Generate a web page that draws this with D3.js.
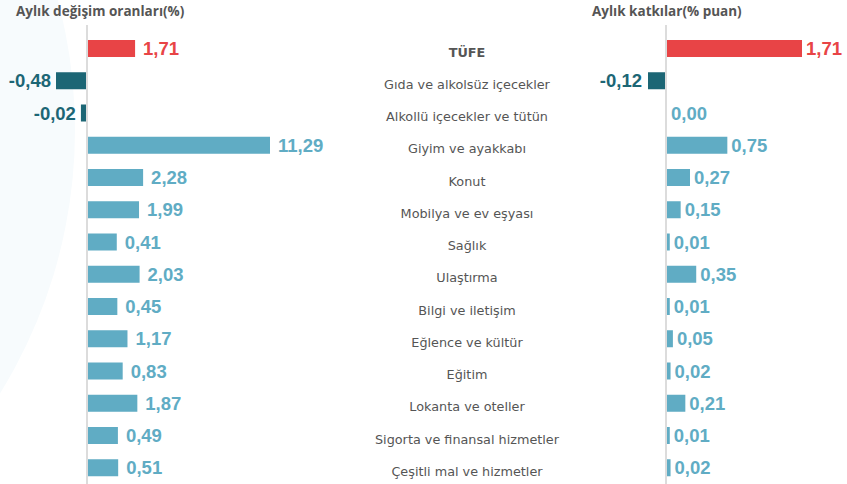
<!DOCTYPE html>
<html><head><meta charset="utf-8">
<script src="https://cdn.jsdelivr.net/npm/d3@7"></script>
<style>html,body{margin:0;padding:0;background:#fff;}svg{display:block;}</style>
</head><body>
<svg id="chart" width="847" height="484"></svg>
<script>
const categories = ["TÜFE","Gıda ve alkolsüz içecekler","Alkollü içecekler ve tütün","Giyim ve ayakkabı","Konut","Mobilya ve ev eşyası","Sağlık","Ulaştırma","Bilgi ve iletişim","Eğlence ve kültür","Eğitim","Lokanta ve oteller","Sigorta ve finansal hizmetler","Çeşitli mal ve hizmetler"];
const changes = [1.71,-0.48,-0.02,11.29,2.28,1.99,0.41,2.03,0.45,1.17,0.83,1.87,0.49,0.51];
const contributions = [1.71,-0.12,0.00,0.75,0.27,0.15,0.01,0.35,0.01,0.05,0.02,0.21,0.01,0.02];
const titles = ["Aylık değişim oranları(%)","Aylık katkılar(% puan)"];

const RED="#e84446", DARK="#1c6675", LIGHT="#60acc4";
const svg = d3.select("#chart");

// faint background decoration
svg.append("ellipse").attr("cx",-425).attr("cy",130).attr("rx",500).attr("ry",500).attr("fill","#f7fbfd");

const y = d3.scalePoint().domain(categories).range([48.5, 467.75]);
const barH = 17;
const fmt = v => d3.format(".2f")(v).replace(".", ",").replace("\u2212", "-");
const color = (v,i) => i===0 ? RED : (v<0 ? DARK : LIGHT);

function panel(values, zeroX, posScale, negScale, gapPos, gapNeg){
  const g = svg.append("g");
  const w = v => v===0 ? 0 : (v>0 ? posScale(v) : negScale(-v));
  g.selectAll("rect").data(values).join("rect")
    .attr("x", v => v>=0 ? zeroX+1 : zeroX - w(v))
    .attr("y", (v,i) => y(categories[i]) - barH/2)
    .attr("width", v => w(v))
    .attr("height", barH)
    .attr("fill", color);
  g.append("line").attr("x1",zeroX).attr("x2",zeroX).attr("y1",25).attr("y2",484)
    .attr("stroke","#dcdcdc").attr("stroke-width",2);
  g.selectAll("text").data(values).join("text")
    .attr("x", v => v>=0 ? zeroX+1+w(v)+gapPos : zeroX - w(v) - gapNeg)
    .attr("y", (v,i) => y(categories[i]))
    .attr("dy","0.36em")
    .attr("text-anchor", v => v>=0 ? "start" : "end")
    .attr("font-family","'Liberation Sans', Arial, sans-serif")
    .attr("font-weight","bold")
    .attr("font-size",18.5)
    .attr("fill", color)
    .text(fmt);
}

panel(changes, 87,
  d3.scaleLinear().domain([0, 11.29]).range([23, 182]),
  d3.scaleLinear().domain([0, 0.48]).range([5, 31]), 8, 5);
panel(contributions, 666,
  d3.scaleLinear().domain([0, 1.71]).range([2, 135]),
  d3.scaleLinear().domain([0, 0.12]).range([2, 18]), 4, 6);

// category labels
svg.append("g").selectAll("text").data(categories).join("text")
  .attr("x", 467)
  .attr("y", d => y(d) + 3.5)
  .attr("dy","0.36em")
  .attr("text-anchor","middle")
  .attr("font-family","'DejaVu Sans', sans-serif")
  .attr("font-size",12.8)
  .attr("font-weight",(d,i)=> i===0 ? "bold" : "normal")
  .attr("fill","#555")
  .text(d=>d);

// titles
svg.append("text").attr("x",16).attr("y",15.5)
  .attr("font-family","'Open Sans', sans-serif").attr("font-weight","bold").attr("font-size",13.5)
  .attr("fill","#555").text(titles[0]);
svg.append("text").attr("x",592).attr("y",15.5)
  .attr("font-family","'Open Sans', sans-serif").attr("font-weight","bold").attr("font-size",13.5)
  .attr("fill","#555").text(titles[1]);
</script>
</body></html>
